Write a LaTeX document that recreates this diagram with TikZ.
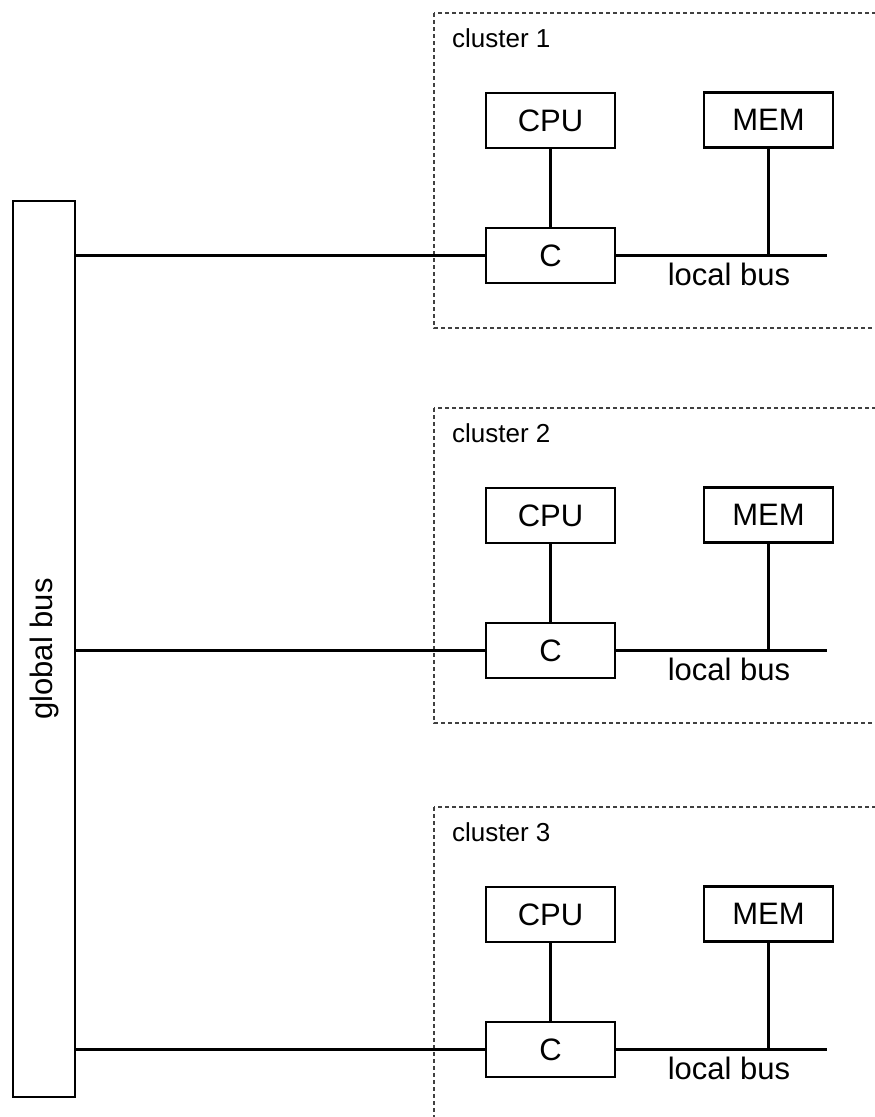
\documentclass[tikz,border=0pt]{standalone}
\usepackage{fontspec}
\setmainfont{Liberation Sans}
\begin{document}
\begin{tikzpicture}[x=1pt,y=-1pt,
  blk/.style={draw, line width=2.8pt, minimum width=129pt, minimum height=55pt, inner sep=0pt, font=\fontsize{31}{36}\selectfont},
  wire/.style={line width=2.8pt},
  clusterbox/.style={draw=black!75, line width=1.2pt, dash pattern=on 4pt off 3pt},
  lbl/.style={font=\fontsize{31}{36}\selectfont, inner sep=0pt},
  clbl/.style={font=\fontsize{26}{30}\selectfont, inner sep=0pt}]
\useasboundingbox (0,0) rectangle (875,1117);
\clip (0,0) rectangle (875,1117);
\node[draw, line width=2.8pt, minimum width=62pt, minimum height=896pt, inner sep=0pt] (gbus) at (44,649) {};
\node[lbl, rotate=90] (gbuslbl) at (gbus.center) {global bus};
\foreach \i/\d in {1/0, 2/395, 3/794} {
  \draw[clusterbox] (434,13+\d) rectangle (900,328+\d);
  \node[clbl, anchor=base west] (cl\i) at (452,47+\d) {cluster \i};
  \node[blk] (cpu\i) at (550.5,120.5+\d) {CPU};
  \node[blk] (mem\i) at (768.5,120+\d) {MEM};
  \node[blk] (c\i) at (550.5,255.5+\d) {C};
  \coordinate (end\i) at (827,254.5+\d);
  \draw[wire] (cpu\i) -- (c\i);
  \draw[wire] (c\i.east) -- (end\i |- c\i.east);
  \draw[wire] (mem\i.south) -- (mem\i.south |- c\i.east);
  \draw[wire] (gbus.east |- c\i.west) -- (c\i.west);
  \node[lbl, anchor=base] (lb\i) at (729,285+\d) {local bus};
}
\end{tikzpicture}
\end{document}
